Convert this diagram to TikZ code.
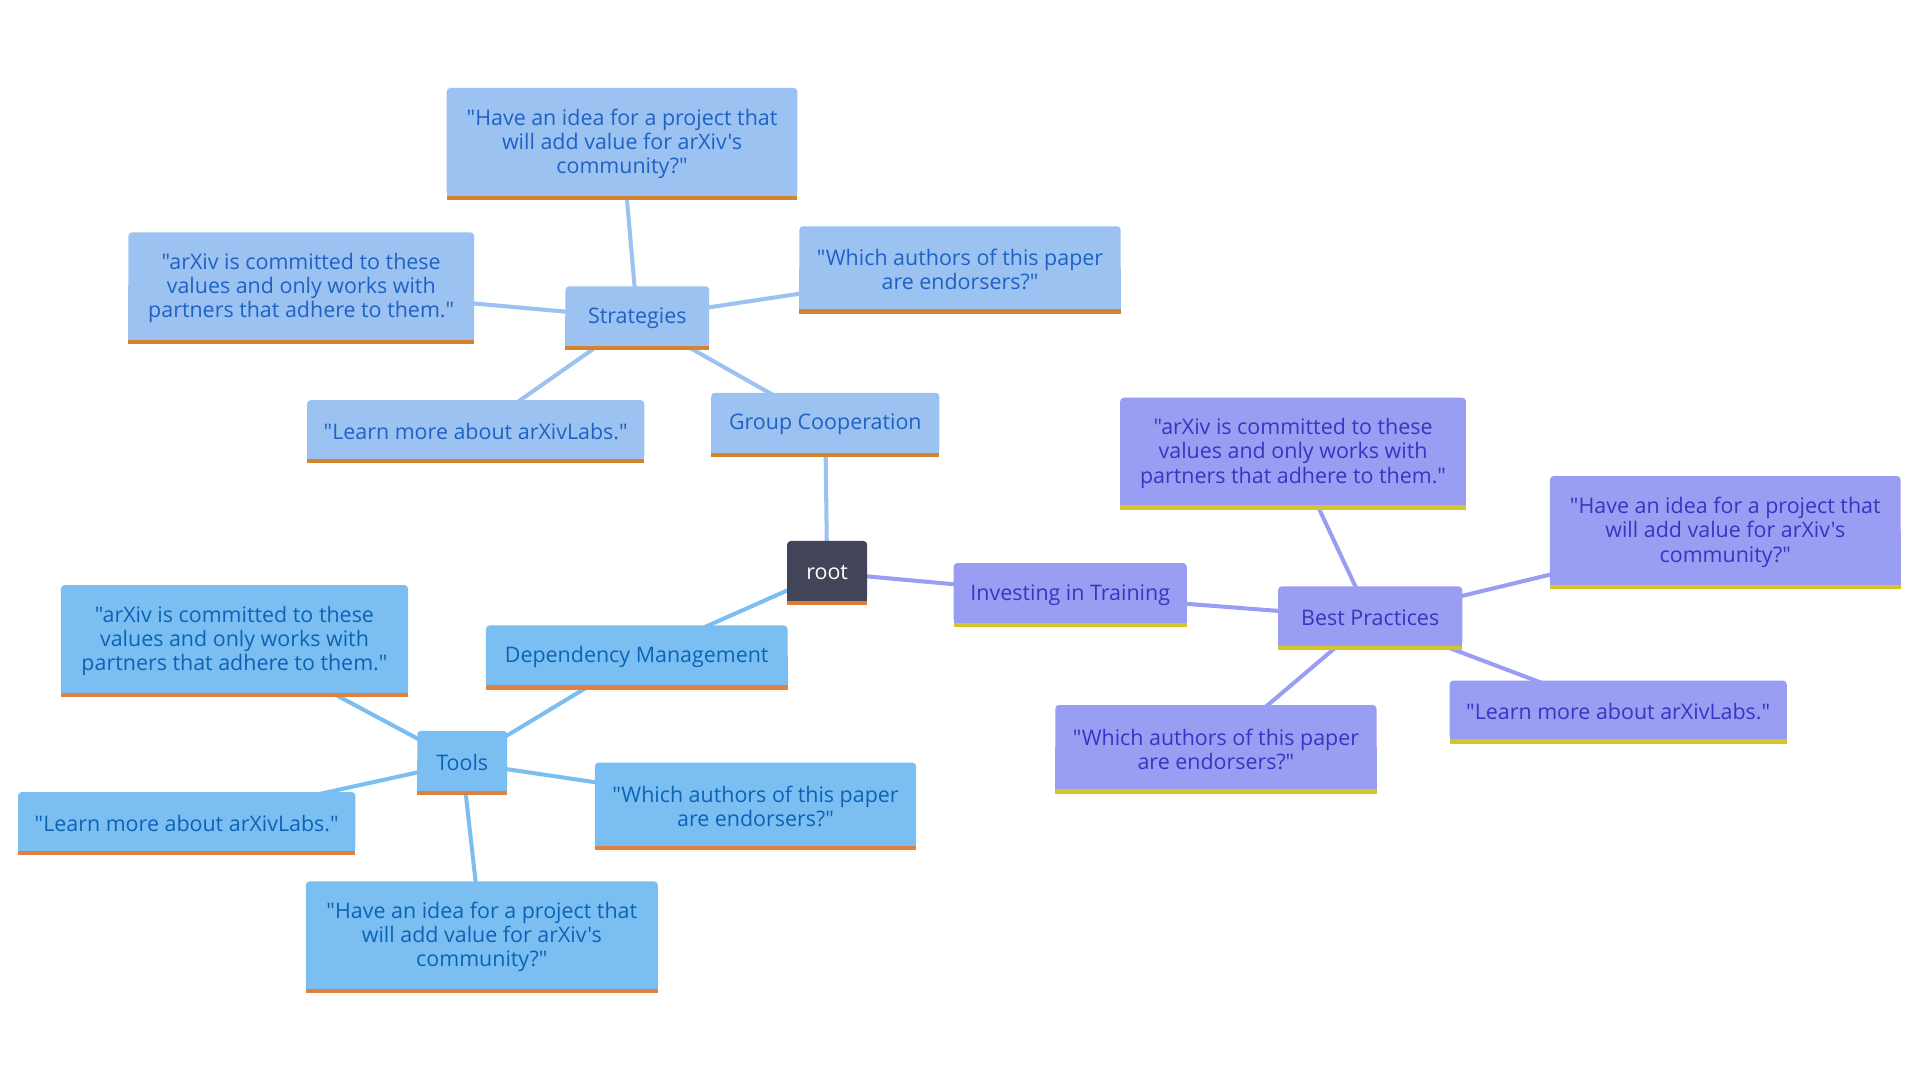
\documentclass[tikz,border=0pt]{standalone}
\usepackage{fontspec}
\setmainfont{Open Sans}[Ligatures=TeXOff]
\pgfdeclarelayer{edges}
\pgfdeclarelayer{boxes}
\pgfsetlayers{edges,boxes,main}
\definecolor{sFill}{HTML}{9BC2F0}
\definecolor{sTxt}{HTML}{1F62C4}
\definecolor{sStr}{HTML}{D4842F}
\definecolor{tFill}{HTML}{7BBFF2}
\definecolor{tTxt}{HTML}{0C63B6}
\definecolor{tStr}{HTML}{E0803A}
\definecolor{pFill}{HTML}{9A9EF2}
\definecolor{pTxt}{HTML}{3934C2}
\definecolor{pStr}{HTML}{D4C62A}
\definecolor{rFill}{HTML}{424559}
\definecolor{rTxt}{HTML}{FFFFFF}
\definecolor{rStr}{HTML}{E07B33}
\tikzset{
  mmtext/.style={inner sep=0pt, align=center, font=\fontsize{17.5}{19.7}\selectfont},
  sedge/.style={draw=sFill, line width=3.3pt},
  tedge/.style={draw=tFill, line width=3.3pt},
  pedge/.style={draw=pFill, line width=3.3pt},
}
\newcommand\mmbox[7]{%
  \node[mmtext, text=#1Txt, minimum width={(#5-#3)*1pt}, minimum height={(#6-#4-3.5)*1pt}] (#2) at ({(#3+#5)/2},{(#4+#6-3.5)/2+1.5}) {#7};
  \begin{pgfonlayer}{boxes}
    \fill[#1Fill, rounded corners=3pt] ([yshift=1.5pt]#2.south west) rectangle ([yshift=1.5pt]#2.north east);
    \fill[#1Fill] ([yshift=1.5pt]#2.south west) rectangle ([yshift=1.5pt]#2.east);
    \fill[#1Str] ([yshift=1.5pt]#2.south west) rectangle ([yshift=-2pt]#2.south east);
  \end{pgfonlayer}%
}
\begin{document}
\begin{tikzpicture}[x=1pt,y=-1pt]
\begin{pgfonlayer}{edges}
\fill[white] (0,0) rectangle (1568,882);
\end{pgfonlayer}
\useasboundingbox (0,0) rectangle (1568,882);
% root
\mmbox{r}{root}{643}{442}{708}{494}{root}
% strategies branch
\mmbox{s}{gc}{581}{321}{767}{373}{Group Cooperation}
\mmbox{s}{st}{462}{234}{579}{286}{Strategies}
\mmbox{s}{sh}{365}{72}{651}{163}{"Have an idea for a project that\\will add value for arXiv's\\community?"}
\mmbox{s}{sa}{105}{190}{387}{281}{"arXiv is committed to these\\values and only works with\\partners that adhere to them."}
\mmbox{s}{sw}{653}{185}{915}{256}{"Which authors of this paper\\are endorsers?"}
\mmbox{s}{sl}{251}{327}{526}{378}{"Learn more about arXivLabs."}
% purple branch
\mmbox{p}{it}{779}{460}{969}{512}{Investing in Training}
\mmbox{p}{bp}{1044}{479}{1194}{531}{Best Practices}
\mmbox{p}{pa}{915}{325}{1197}{416}{"arXiv is committed to these\\values and only works with\\partners that adhere to them."}
\mmbox{p}{ph}{1266}{389}{1552}{481}{"Have an idea for a project that\\will add value for arXiv's\\community?"}
\mmbox{p}{pl}{1184}{556}{1459}{607}{"Learn more about arXivLabs."}
\mmbox{p}{pw}{862}{576}{1124}{648}{"Which authors of this paper\\are endorsers?"}
% tools branch
\mmbox{t}{dm}{397}{511}{643}{563}{Dependency Management}
\mmbox{t}{tl}{341}{597}{414}{649}{Tools}
\mmbox{t}{ta}{50}{478}{333}{569}{"arXiv is committed to these\\values and only works with\\partners that adhere to them."}
\mmbox{t}{tn}{15}{647}{290}{698}{"Learn more about arXivLabs."}
\mmbox{t}{tw}{486}{623}{748}{694}{"Which authors of this paper\\are endorsers?"}
\mmbox{t}{th}{250}{720}{537}{811}{"Have an idea for a project that\\will add value for arXiv's\\community?"}
% edges
\begin{pgfonlayer}{edges}
\draw[sedge] (root.center) -- (gc.center);
\draw[sedge] (gc.center) -- (st.center);
\draw[sedge] (st.center) -- (sh.center);
\draw[sedge] (st.center) -- (sa.center);
\draw[sedge] (st.center) -- (sw.center);
\draw[sedge] (st.center) -- (sl.center);
\draw[pedge] (root.center) -- (it.center);
\draw[pedge] (it.center) -- (bp.center);
\draw[pedge] (bp.center) -- (pa.center);
\draw[pedge] (bp.center) -- (ph.center);
\draw[pedge] (bp.center) -- (pl.center);
\draw[pedge] (bp.center) -- (pw.center);
\draw[tedge] (root.center) -- (dm.center);
\draw[tedge] (dm.center) -- (tl.center);
\draw[tedge] (tl.center) -- (ta.center);
\draw[tedge] (tl.center) -- (tn.center);
\draw[tedge] (tl.center) -- (tw.center);
\draw[tedge] (tl.center) -- (th.center);
\end{pgfonlayer}
\end{tikzpicture}
\end{document}
